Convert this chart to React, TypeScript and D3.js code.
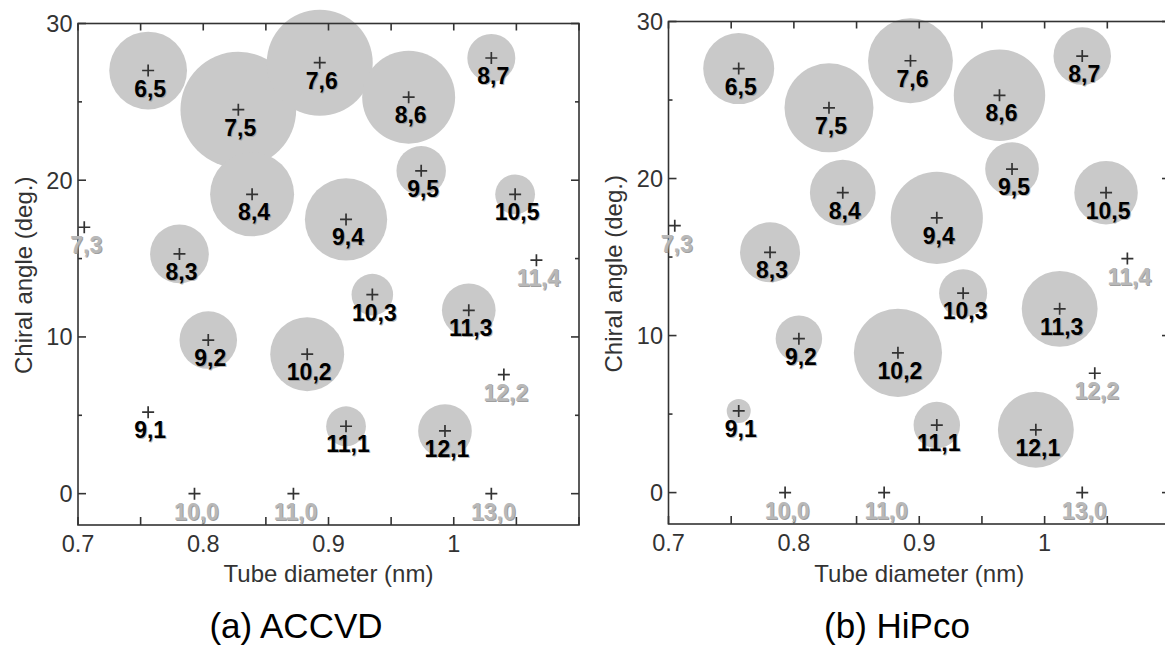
import * as d3 from "d3";

// chirality (n,m), tube diameter (nm), chiral angle (deg.)
const labels = ["6,5", "7,5", "7,6", "8,6", "8,7", "8,4", "9,5", "10,5", "9,4", "7,3", "8,3", "11,4",
  "10,3", "11,3", "9,2", "10,2", "12,2", "9,1", "11,1", "12,1", "10,0", "11,0", "13,0"];
const diameters = [0.756, 0.828, 0.893, 0.964, 1.030, 0.839, 0.974, 1.049, 0.914, 0.705, 0.781, 1.066,
  0.935, 1.012, 0.804, 0.883, 1.040, 0.756, 0.914, 0.993, 0.793, 0.872, 1.030];
const angles = [27.0, 24.5, 27.5, 25.3, 27.8, 19.1, 20.6, 19.1, 17.5, 17.0, 15.3, 14.9,
  12.7, 11.7, 9.8, 8.9, 7.6, 5.2, 4.3, 4.0, 0, 0, 0];
// chiralities not assigned (gray labels)
const unassigned = ["7,3", "11,4", "12,2", "10,0", "11,0", "13,0"];

// relative abundance (bubble area)
const accvd = [0.42, 0.93, 0.78, 0.6, 0.16, 0.49, 0.17, 0.11, 0.47, 0, 0.24, 0,
  0.12, 0.2, 0.23, 0.38, 0, 0, 0.11, 0.2, 0, 0, 0];
const hipco = [0.35, 0.55, 0.5, 0.58, 0.23, 0.3, 0.2, 0.28, 0.59, 0, 0.25, 0,
  0.16, 0.4, 0.15, 0.54, 0, 0.04, 0.15, 0.4, 0, 0, 0];

const xTicks = [0.7, 0.75, 0.8, 0.85, 0.9, 0.95, 1.0, 1.05, 1.1];
const xTickLabels = [0.7, 0.8, 0.9, 1.0];
const yTicks = [0, 5, 10, 15, 20, 25, 30];
const yTickLabels = [0, 10, 20, 30];

const FONT = "'Liberation Sans', Arial, Helvetica, sans-serif";
const AXIS = "#333";

type PanelProps = {
  left: number;
  right: number;
  top: number;
  bottom: number;
  sizes: number[];
  title: string;
  titleX: number;
  yTitleX: number;
};

function Panel({ left, right, top, bottom, sizes, title, titleX, yTitleX }: PanelProps) {
  const x = d3.scaleLinear().domain([0.7, 1.1]).range([left, right]);
  const y = d3.scaleLinear().domain([-2, 30]).range([bottom, top]);
  const r = d3.scaleSqrt().domain([0, 1]).range([0, 60]);
  const idx = d3.range(labels.length);
  const mid = (left + right) / 2;

  return (
    <g>
      {idx.filter((i) => sizes[i] > 0).map((i) => (
        <circle key={"c" + i} cx={x(diameters[i])} cy={y(angles[i])} r={r(sizes[i])} fill="#c9c9c9" />
      ))}

      <rect x={left} y={top} width={right - left} height={bottom - top} fill="none" stroke={AXIS} strokeWidth={1.6} />

      {xTicks.map((t) => (
        <g key={"xt" + t} stroke={AXIS} strokeWidth={1.6}>
          <line x1={x(t)} x2={x(t)} y1={bottom} y2={bottom - 8} />
          <line x1={x(t)} x2={x(t)} y1={top} y2={top + 7} />
        </g>
      ))}
      {yTicks.map((t) => {
        const len = t % 10 === 0 ? 8 : 4;
        return (
          <g key={"yt" + t} stroke={AXIS} strokeWidth={1.6}>
            <line x1={left} x2={left + len} y1={y(t)} y2={y(t)} />
            <line x1={right} x2={right - len} y1={y(t)} y2={y(t)} />
          </g>
        );
      })}
      {xTickLabels.map((t) => (
        <text key={"xl" + t} x={x(t)} y={bottom + 27} textAnchor="middle" fontSize={23.5} fill={AXIS} fontFamily={FONT}>
          {String(t)}
        </text>
      ))}
      {yTickLabels.map((t) => (
        <text key={"yl" + t} x={left - 5.5} y={y(t) + 8.5} textAnchor="end" fontSize={23.5} fill={AXIS} fontFamily={FONT}>
          {String(t)}
        </text>
      ))}

      <text x={mid} y={582} textAnchor="middle" fontSize={24} fill={AXIS} fontFamily={FONT}>
        Tube diameter (nm)
      </text>
      <text
        transform={`translate(${yTitleX},${(top + bottom) / 2 + 1}) rotate(-90)`}
        textAnchor="middle"
        dominantBaseline="central"
        fontSize={24}
        fill={AXIS}
        fontFamily={FONT}
      >
        Chiral angle (deg.)
      </text>
      <text x={titleX} y={638} textAnchor="middle" fontSize={35} fill="#000" fontFamily={FONT}>
        {title}
      </text>

      {idx.map((i) => {
        const cx = x(diameters[i]);
        const cy = y(angles[i]);
        const gray = unassigned.includes(labels[i]);
        return (
          <g key={"p" + i}>
            <path d={`M${cx - 6},${cy}H${cx + 6}M${cx},${cy - 6}V${cy + 6}`} stroke={AXIS} strokeWidth={1.7} fill="none" />
            <text x={cx + 3} y={cy + 27} textAnchor="middle" fontSize={23} fontWeight="bold" fontFamily={FONT}
              fill={gray ? "#888" : "#777"} opacity={gray ? 0.8 : 0.5}>
              {labels[i]}
            </text>
            <text x={cx + 2} y={cy + 26} textAnchor="middle" fontSize={23} fontWeight="bold" fontFamily={FONT}
              fill={gray ? "#b8b8b8" : "#000"}>
              {labels[i]}
            </text>
          </g>
        );
      })}
    </g>
  );
}

export default function App() {
  return (
    <svg width={1165} height={650} style={{ position: "absolute", left: 0, top: 0, background: "#fff" }}>
      <rect width={1165} height={650} fill="#fff" />
      <Panel left={78} right={579} top={23.5} bottom={525} sizes={accvd} title="(a) ACCVD" titleX={296} yTitleX={23} />
      <Panel left={668.5} right={1170} top={21.5} bottom={524} sizes={hipco} title="(b) HiPco" titleX={897} yTitleX={613} />
    </svg>
  );
}
